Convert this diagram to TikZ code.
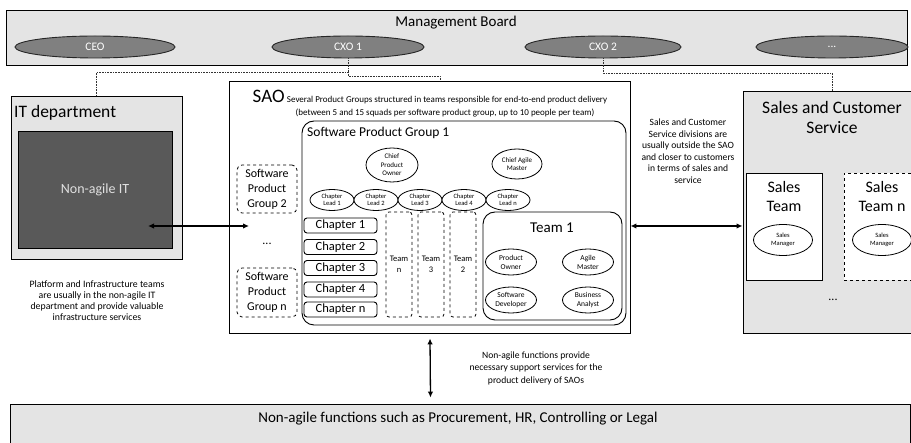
\documentclass[tikz,border=0pt]{standalone}
\usepackage{fontspec}
\setmainfont{Carlito}
\usetikzlibrary{arrows.meta,shapes.geometric,calc}
\definecolor{lightg}{HTML}{E4E4E4}
\definecolor{midg}{HTML}{808080}
\definecolor{darkg}{HTML}{595959}
\definecolor{paleg}{HTML}{E0E0E0}
\newcommand\myfs[2]{\fontsize{#1}{#2}\selectfont}
\begin{document}
\begin{tikzpicture}[x=1pt,y=-1pt,
  box/.style={draw=black, line width=0.9pt, inner sep=0pt},
  rbox/.style={box, rounded corners=#1},
  dbox/.style={draw=black, dashed, line width=0.8pt, inner sep=0pt, rounded corners=5pt, fill=white},
  ell/.style={ellipse, draw=black, line width=0.8pt, inner sep=0pt, align=center, fill=white},
  dell/.style={ellipse, draw=black!85, line width=0.9pt, inner sep=0pt, fill=midg, text=white, font=\myfs{11.5}{13}},
  txt/.style={inner sep=0pt, align=center},
  captxt/.style={txt, font=\myfs{9.6}{11.5}},
  arr/.style={{Latex[length=6pt,width=5.5pt]}-{Latex[length=6pt,width=5.5pt]}, line width=1.3pt},
  dotline/.style={densely dotted, line width=0.6pt, draw=black!80}]
\useasboundingbox (0,0) rectangle (911,443);

% Management board
\node[box, fill=lightg, minimum width=901pt, minimum height=55pt] (board) at (456.5,37.5) {};
\node[txt, font=\myfs{15}{18}] (boardt) at (456,23) {Management Board};
\node[dell, minimum width=160pt, minimum height=22pt] (ceo) at (95,47) {CEO};
\node[dell, minimum width=152pt, minimum height=22pt] (cxo1) at (348,47) {CXO 1};
\node[dell, minimum width=156pt, minimum height=22pt] (cxo2) at (603,47) {CXO 2};
\node[dell, minimum width=152pt, minimum height=22pt] (cxon) at (832,47) {...};

% IT department
\node[box, fill=lightg, minimum width=171pt, minimum height=163pt] (it) at (96.5,177.5) {};
\node[txt, anchor=west, font=\myfs{17.5}{20}] (itt) at (14,113) {IT department};
\node[box, fill=darkg, minimum width=154pt, minimum height=117pt, text=paleg, font=\myfs{14}{16}] (itin) at (95,189.5) {Non-agile IT};
\node[captxt, font=\myfs{9.8}{11}] (itcap) at (97,300.5) {Platform and Infrastructure teams\\are usually in the non-agile IT\\department and provide valuable\\infrastructure services};

% SAO
\node[box, fill=white, minimum width=401pt, minimum height=252pt] (sao) at (429.5,207) {};
\node[inner sep=0pt, anchor=base] (saot) at (430,103) {{\myfs{19}{20}SAO} {\myfs{9}{10}Several Product Groups structured in teams responsible for end-to-end product delivery}};
\node[inner sep=0pt, anchor=base, font=\myfs{9}{10}] (saot2) at (445,116) {(between 5 and 15 squads per software product group, up to 10 people per team)};

\node[dbox, minimum width=60pt, minimum height=48pt, align=center, font=\myfs{12}{15}] (spg2) at (267,189) {Software\\Product\\Group 2};
\node[txt, font=\myfs{12}{14}] (sdots) at (267,244) {...};
\node[dbox, minimum width=60pt, minimum height=49pt, align=center, font=\myfs{12}{15}] (spgn) at (267,292.5) {Software\\Product\\Group n};

% Software Product Group 1
\node[rbox=12pt, minimum width=324pt, minimum height=204pt] (spg1) at (464,223) {};
\node[txt, anchor=west, font=\myfs{13.5}{16}] (spg1t) at (307,133) {Software Product Group 1};
\node[ell, minimum width=52pt, minimum height=34pt, font=\myfs{7}{8.5}] (cpo) at (392,165) {Chief\\Product\\Owner};
\node[ell, minimum width=50pt, minimum height=30pt, font=\myfs{7}{8.5}] (cam) at (517,164) {Chief Agile\\Master};

\foreach \i/\x/\l in {1/332/1, 2/376/2, 3/420/3, 4/464/4, 5/508/n}{
  \node[ell, minimum width=44pt, minimum height=21pt, font=\myfs{6.5}{7.5}] (cl\i) at (\x,200) {Chapter\\Lead \l};
}
\foreach \i/\y/\l in {1/225.5/1, 2/247/2, 3/268/3, 4/289.5/4, 5/309.5/n}{
  \node[rbox=3pt, minimum width=73pt, minimum height=15pt, font=\myfs{12.5}{14}] (ch\i) at (340.5,\y) {Chapter \l};
}
\foreach \n/\x/\l in {tn/399/n, t3/431/3, t2/463/2}{
  \node[dbox, rounded corners=3pt, minimum width=26pt, minimum height=105pt, align=center, font=\myfs{8.5}{11}] (\n) at (\x,264.5) {Team\\\l};
}

% Team 1
\node[rbox=12pt, minimum width=139pt, minimum height=108pt] (team1) at (552.5,266) {};
\node[txt, font=\myfs{15}{17}] (team1t) at (552,228) {Team 1};
\node[ell, minimum width=51pt, minimum height=26pt, font=\myfs{7.5}{9}] (po) at (511,262) {Product\\Owner};
\node[ell, minimum width=51pt, minimum height=26pt, font=\myfs{7.5}{9}] (am) at (588,262) {Agile\\Master};
\node[ell, minimum width=51pt, minimum height=26pt, font=\myfs{7.5}{9}] (sd) at (511,300) {Software\\Developer};
\node[ell, minimum width=51pt, minimum height=26pt, font=\myfs{7.5}{9}] (ba) at (588,300) {Business\\Analyst};

% Sales and Customer Service
\node[box, fill=lightg, minimum width=178pt, minimum height=242pt] (sales) at (832,212) {};
\node[txt, font=\myfs{17.5}{20}] (salest) at (832,117) {Sales and Customer\\Service};
\node[box, fill=white, minimum width=76pt, minimum height=107pt] (st) at (784,226.5) {};
\node[txt, font=\myfs{16}{19}] (stt) at (784,197) {Sales\\Team};
\node[ell, minimum width=59pt, minimum height=31pt, font=\myfs{6.5}{8}] (sm1) at (783,240) {Sales\\Manager};
\node[dbox, rounded corners=0pt, minimum width=76pt, minimum height=107pt] (stn) at (882,226.5) {};
\node[txt, font=\myfs{16}{19}] (stnt) at (882,197) {Sales\\Team n};
\node[ell, minimum width=59pt, minimum height=31pt, font=\myfs{6.5}{8}] (sm2) at (882,240) {Sales\\Manager};
\node[txt, font=\myfs{12}{14}] (sldots) at (833,300) {...};
\node[captxt] (salcap) at (688,151) {Sales and Customer\\Service divisions are\\usually outside the SAO\\and closer to customers\\in terms of sales and\\service};

% Bottom
\node[box, fill=lightg, minimum width=900pt, minimum height=40pt] (bottom) at (460,424) {};
\node[txt, font=\myfs{15}{17}] (bottomt) at (458,419) {Non-agile functions such as Procurement, HR, Controlling or Legal};
\node[captxt, font=\myfs{9.6}{12.5}] (botcap) at (536,368) {Non-agile functions provide\\necessary support services for the\\product delivery of SAOs};

% Dotted reporting lines
\coordinate (yL) at (0,72);
\coordinate (yR) at (440,76);
\coordinate (yS) at (0,73);
\draw[dotline] (cxo1.south) -- (cxo1.south |- yL) -| (it.north);
\draw[dotline] (cxo1.south |- yL) |- (yR) -- (yR |- sao.north);
\draw[dotline] (cxo2.south) -- (cxo2.south |- yS) -| (sales.north);

% Arrows
\coordinate (a1) at (148,226);
\coordinate (a2) at (249,226);
\draw[arr] (a1) -- (a2);
\draw[arr] (sao.east |- a1) -- (sales.west |- a1);
\draw[arr] ($(sao.south)+(0.5,5)$) -- ($(bottom.north)+(-29.5,-6)$);
\end{tikzpicture}
\end{document}
